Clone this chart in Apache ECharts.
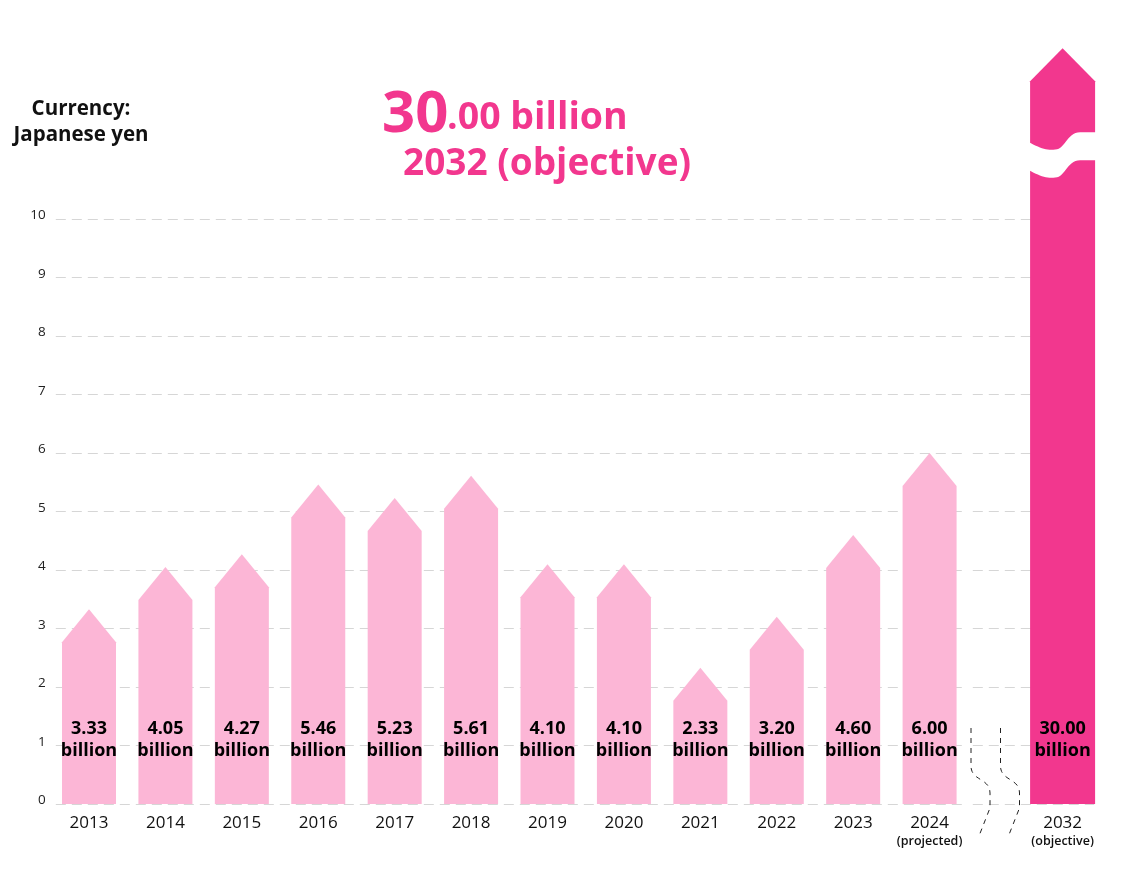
<!DOCTYPE html>
<html>
<head>
<meta charset="utf-8">
<script src="https://cdn.jsdelivr.net/npm/echarts@6/dist/echarts.min.js"></script>
<style>
html,body{margin:0;padding:0;background:#fff;}
#chart{width:1126px;height:873px;}
</style>
</head>
<body>
<div id="chart"></div>
<script>
// ---------------- data ----------------
const years = ['2013','2014','2015','2016','2017','2018','2019','2020','2021','2022','2023','2024'];
const values = [3.33, 4.05, 4.27, 5.46, 5.23, 5.61, 4.10, 4.10, 2.33, 3.20, 4.60, 6.00];
const objectiveCats = ['', '2032'];
const objectiveValues = [[1, 30.00]];
const subLabels = { '2024': '(projected)', '2032': '(objective)' };
const yTickMax = 10;
const unitLines = ['Currency:', 'Japanese yen'];
const titleBig = '30';
const titleRest = '.00 billion';
const titleLine2 = '2032 (objective)';
const valueSuffix = 'billion';

// ---------------- styles ----------------
const LIGHT = '#fcb6d6';
const DARK = '#f2378e';
const FONT = '"Open Sans", "Noto Sans", sans-serif';
const Y_MAX = 12.92;
const BAR_W = 54;
const BIG_W = 65;
const HEAD_H = 33;
const LABEL_OFFSET = 65;
const BREAK_AT = 11.09;

function cubic(p0, p1, p2, p3, n) {
  const pts = [];
  for (let i = 0; i <= n; i++) {
    const t = i / n, u = 1 - t;
    pts.push([
      u*u*u*p0[0] + 3*u*u*t*p1[0] + 3*u*t*t*p2[0] + t*t*t*p3[0],
      u*u*u*p0[1] + 3*u*u*t*p1[1] + 3*u*t*t*p2[1] + t*t*t*p3[1]
    ]);
  }
  return pts;
}
function breakBand(L, R, c) {
  const up = [].concat(
    cubic([L-1, c-13], [L+10, c-7], [L+18, c-4], [L+27, c-6], 14),
    cubic([L+27, c-6], [L+35, c-8], [L+38, c-23], [L+50, c-23], 14),
    [[R+1, c-23]]
  );
  const low = up.map(p => [p[0], p[1] + 28]).reverse();
  return up.concat(low);
}
function breakLine(x0) {
  return [].concat(
    [[x0, 728], [x0, 766]],
    cubic([x0, 766], [x0, 781], [x0+19, 778], [x0+19, 793], 14),
    [[x0+19, 808], [x0+8, 836]]
  );
}

function makeArrow(width, color) {
  return function (params, api) {
    const xi = api.value(0), v = api.value(1);
    const top = api.coord([xi, Math.min(v, Y_MAX)]);
    const base = api.coord([xi, 0]);
    const cx = base[0], hw = width / 2;
    const shoulder = top[1] + HEAD_H;
    const children = [{
      type: 'polygon',
      shape: { points: [[cx-hw, base[1]], [cx-hw, shoulder], [cx, top[1]], [cx+hw, shoulder], [cx+hw, base[1]]] },
      style: { fill: color }
    }];
    if (v > yTickMax) {
      const c = api.coord([xi, BREAK_AT])[1];
      children.push({ type: 'polygon', shape: { points: breakBand(cx-hw, cx+hw, c) }, style: { fill: '#fff' } });
    }
    children.push({
      type: 'text',
      style: {
        text: v.toFixed(2) + '\n' + valueSuffix,
        x: cx, y: base[1] - LABEL_OFFSET + 1,
        align: 'center', verticalAlign: 'middle',
        fontSize: 18, fontWeight: 'bold', fontFamily: FONT,
        lineHeight: 22, fill: '#000'
      }
    });
    return { type: 'group', children: children };
  };
}

const splitColors = [];
for (let i = 0; i <= yTickMax; i++) splitColors.push('#d6d6d6');
splitColors.push('rgba(0,0,0,0)', 'rgba(0,0,0,0)', 'rgba(0,0,0,0)');

function catFormatter(val) {
  if (!val) return '';
  return subLabels[val] ? '{y|' + val + '}\n{s|' + subLabels[val] + '}' : '{y|' + val + '}';
}
const catRich = {
  y: { fontSize: 17, fontFamily: FONT, color: '#111', lineHeight: 19 },
  s: { fontSize: 12.5, fontWeight: 600, fontFamily: FONT, color: '#111', lineHeight: 16 }
};

function yAxisCfg(gridIndex, showLabels) {
  return {
    type: 'value', gridIndex: gridIndex, min: 0, max: Y_MAX, interval: 1,
    axisLine: { show: false }, axisTick: { show: false },
    axisLabel: {
      show: showLabels, margin: 5,
      formatter: v => (v <= yTickMax && Number.isInteger(v)) ? '{t|' + v + '}' : '',
      rich: { t: { fontSize: 13.5, fontFamily: FONT, color: '#222', padding: [0, 0, 7, 0] } }
    },
    splitLine: { show: true, lineStyle: { color: splitColors, type: [10, 6], dashOffset: 11, width: 1 } }
  };
}

const chart = echarts.init(document.getElementById('chart'), null, { renderer: 'canvas' });
chart.setOption({
  backgroundColor: '#fff',
  animation: false,
  grid: [
    { left: 50.8, width: 917, top: 48.2, bottom: 69, outerBoundsMode: 'none', containLabel: false },
    { left: 967.8, width: 126.4, top: 48.2, bottom: 69, outerBoundsMode: 'none', containLabel: false }
  ],
  xAxis: [
    { type: 'category', gridIndex: 0, data: years, axisLine: { show: false }, axisTick: { show: false },
      axisLabel: { margin: 10, formatter: catFormatter, rich: catRich, interval: 0 } },
    { type: 'category', gridIndex: 1, data: objectiveCats, axisLine: { show: false }, axisTick: { show: false },
      axisLabel: { margin: 10, formatter: catFormatter, rich: catRich, interval: 0 } }
  ],
  yAxis: [yAxisCfg(0, true), yAxisCfg(1, false)],
  series: [
    { type: 'custom', xAxisIndex: 0, yAxisIndex: 0, data: values.map((v, i) => [i, v]),
      renderItem: makeArrow(BAR_W, LIGHT), z: 3 },
    { type: 'custom', xAxisIndex: 1, yAxisIndex: 1, data: objectiveValues,
      renderItem: makeArrow(BIG_W, DARK), z: 3 }
  ],
  graphic: [
    { type: 'text', x: 81, y: 109, style: { text: unitLines[0], fontSize: 20.5, fontWeight: 'bold', fontFamily: FONT, fill: '#111', align: 'center', verticalAlign: 'middle' } },
    { type: 'text', x: 81, y: 135, style: { text: unitLines[1], fontSize: 20.5, fontWeight: 'bold', fontFamily: FONT, fill: '#111', align: 'center', verticalAlign: 'middle' } },
    { type: 'text', x: 382, y: 115, style: { text: titleBig, fontSize: 58, fontWeight: 'bold', fontFamily: FONT, fill: DARK, align: 'left', verticalAlign: 'middle' } },
    { type: 'text', x: 447, y: 118, style: { text: titleRest, fontSize: 37.5, fontWeight: 'bold', fontFamily: FONT, fill: DARK, align: 'left', verticalAlign: 'middle' } },
    { type: 'text', x: 403, y: 164, style: { text: titleLine2, fontSize: 37, fontWeight: 'bold', fontFamily: FONT, fill: DARK, align: 'left', verticalAlign: 'middle' } },
    { type: 'polyline', z: 10, shape: { points: breakLine(971) }, style: { stroke: '#222', lineWidth: 1, lineDash: [5, 5], fill: null } },
    { type: 'polyline', z: 10, shape: { points: breakLine(1000.5) }, style: { stroke: '#222', lineWidth: 1, lineDash: [5, 5], fill: null } }
  ]
});
</script>
</body>
</html>
